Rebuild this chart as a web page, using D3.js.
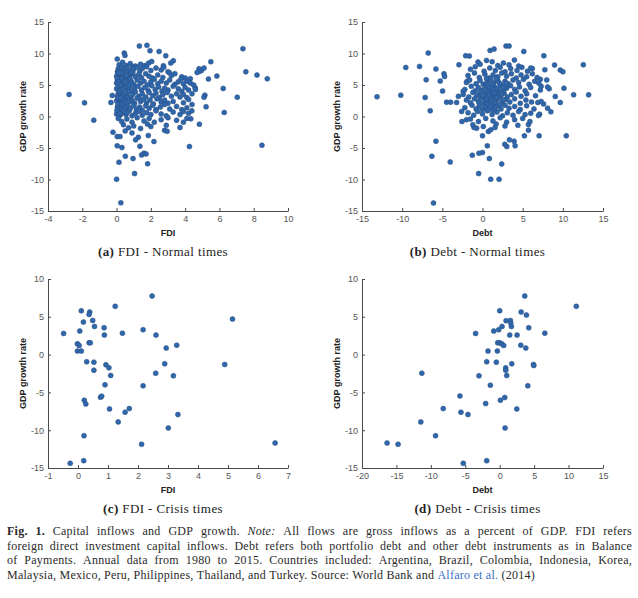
<!DOCTYPE html>
<html><head><meta charset="utf-8">
<script src="https://cdn.jsdelivr.net/npm/d3@7"></script>
<style>body{margin:0;background:#fff}svg{display:block}</style>
</head><body>
<script>
// ---------- DATA ----------
const fdiNormal = [
[-2.77,3.5],[-1.87,2.17],[-1.33,-0.58],[-0.33,2.23],[-0.25,3.34],[-0.21,-2.49],[0,-9.96],[0.25,-13.7],[0.14,-7.26],[1.05,-9.06],[0.96,-6.68],[0.51,-6.31],[0.31,-4.93],[0.04,-4.66],[0.04,-3.18],[0.2,-3.18],[1.81,-7.5],[1.46,-6.1],[1.6,-5.83],[1.72,-5.94],[1.36,-4.72],[1.27,-3.29],[1.11,-3.71],[1.85,-3.02],[2.18,-3.97],[4.25,-4.77],[8.48,-4.56],[1.33,11.18],[1.77,11.29],[1.95,10.44],[2.48,10.33],[2.87,9.64],[0.45,10.07],[0.49,9.7],[0.04,9.11],[7.37,10.76],[7.54,7.1],[8.19,6.57],[8.79,5.99],[6.22,4.45],[6.28,0.64],[7.04,3.07],[5.85,6.41],[5.36,5.94],[5.5,8.69],[5.1,7.68],[4.95,7.31],[4.81,7.58],[4.83,7.15],[5.22,1.54],[4.83,-1.22],[5.15,3.39],[5.1,3.07],[4.58,4.56],[4.39,0.9],[4.33,-0.37],[3.31,8.85],[3.16,8.48],[2.73,8.06],
[0.15,8.2],[0.35,8.6],[0.55,8.1],[0.8,8.4],[1.1,8.0],[1.4,8.3],[1.65,8.1],[1.87,8.48],[2.05,8.74],
[0.05,7.1],[0.1,7.6],[0.2,7.3],[0.3,7.8],[0.45,7.4],[0.6,7.7],[0.75,7.2],[0.9,7.9],[1.0,7.5],[1.2,7.8],[1.35,7.2],[1.5,7.6],[1.75,7.9],[2.0,7.3],[2.3,7.7],[2.6,7.4],[2.75,7.8],[3.0,7.1],[3.1,6.9],[4.7,7.0],
[0.0,6.4],[0.1,6.9],[0.2,6.2],[0.3,6.7],[0.4,6.3],[0.5,6.8],[0.65,6.1],[0.8,6.6],[0.95,6.9],[1.1,6.3],[1.3,6.7],[1.45,6.2],[1.7,6.8],[1.9,6.4],[2.1,6.1],[2.4,6.6],[2.7,6.2],[3.2,6.5],[3.4,6.8],[3.8,6.3],[4.0,6.1],[4.3,6.0],
[0,5.3],[0.05,5.8],[0.15,5.5],[0.25,5.1],[0.35,5.9],[0.45,5.4],[0.55,5.7],[0.7,5.2],[0.85,5.6],[1.0,5.1],[1.2,5.8],[1.4,5.3],[1.6,5.6],[1.8,5.0],[2.0,5.5],[2.2,5.9],[2.4,5.2],[2.6,5.6],[2.9,5.3],[3.1,5.8],[3.4,5.1],[3.6,5.5],[3.75,5.9],[3.9,5.2],[4.1,5.6],[4.3,5.3],[4.5,5.0],
[0,4.4],[0.1,4.8],[0.2,4.1],[0.3,4.6],[0.4,4.3],[0.5,4.9],[0.6,4.2],[0.75,4.7],[0.9,4.0],[1.05,4.5],[1.25,4.8],[1.45,4.2],[1.65,4.6],[1.85,4.1],[2.05,4.9],[2.25,4.3],[2.45,4.7],[2.65,4.0],[2.8,4.5],[3.0,4.2],[3.3,4.8],[3.6,4.4],[3.8,4.0],[4.0,4.6],[4.2,4.2],[4.6,4.3],
[0.05,3.2],[0.1,3.7],[0.2,3.4],[0.3,3.9],[0.35,3.1],[0.45,3.6],[0.55,3.3],[0.65,3.8],[0.8,3.0],[0.95,3.5],[1.1,3.9],[1.3,3.2],[1.5,3.6],[1.7,3.1],[1.9,3.8],[2.1,3.3],[2.3,3.7],[2.5,3.0],[2.7,3.5],[2.95,3.8],[3.2,3.2],[3.5,3.6],[3.7,3.1],[3.9,3.5],[4.1,3.0],[4.4,3.6],
[0,2.5],[0.1,2.9],[0.2,2.2],[0.3,2.7],[0.4,2.4],[0.5,2.0],[0.6,2.8],[0.75,2.3],[0.9,2.6],[1.05,2.1],[1.2,2.9],[1.4,2.4],[1.55,2.7],[1.75,2.2],[1.95,2.6],[2.15,2.0],[2.35,2.8],[2.6,2.3],[2.8,2.6],[3.0,2.1],[3.3,2.4],[3.9,2.2],[4.2,2.7],
[0.05,1.5],[0.15,1.9],[0.25,1.2],[0.4,1.7],[0.5,1.1],[0.65,1.6],[0.8,1.3],[1.0,1.8],[1.15,1.2],[1.35,1.5],[1.5,1.0],[1.7,1.7],[1.9,1.3],[2.1,1.8],[2.3,1.1],[2.55,1.5],[2.8,1.9],[3.1,1.2],[3.5,1.6],[3.8,1.1],[4.1,1.4],[4.4,1.9],
[0,0.4],[0.1,0.8],[0.2,0.2],[0.35,0.6],[0.55,0.3],[0.75,0.9],[0.9,0.1],[1.1,0.5],[1.3,0.8],[1.5,0.2],[1.75,0.6],[2.0,0.3],[2.3,0.9],[2.6,0.4],[2.9,0.1],[3.3,0.7],[3.7,0.3],[3.9,0.8],[4.2,0.5],
[0.1,-0.3],[0.3,-0.8],[0.6,-0.4],[0.9,-0.9],[1.2,-0.2],[1.6,-0.7],[1.9,-0.3],[2.2,-0.9],[2.6,-0.5],[3.0,-0.2],[3.5,-0.6],[3.9,-0.9],[4.1,-0.3],
[0.4,-1.3],[0.7,-1.8],[1.0,-1.5],[1.4,-1.9],[1.8,-1.2],[2.0,-1.6],[2.9,-1.4],[3.7,-1.75],
[0.5,-2.3],[0.9,-2.6],[2.8,-2.2],[2.95,-2.35],
[0.02,1.0],[0.08,2.0],[0.12,3.0],[0.18,4.0],[0.22,5.0],[0.28,6.0],[0.32,7.0],[0.38,2.5],[0.42,3.5],[0.48,4.5],[0.52,5.5],[0.58,6.5],[0.05,6.0],[0.15,7.0],[0.25,3.0],[0.35,4.2],[0.45,1.4],[0.55,2.2],[0.62,3.0],[0.68,4.0],[0.72,5.0],[0.78,6.0],[0.85,7.0],[0.2,0.5],[0.4,0.9],[0.6,0.6],[0.1,5.5],[0.3,2.0],[0.5,3.8],[0.7,2.6]
];
const debtNormal = [
[-13.13,3.13],[-10.17,3.39],[-9.55,7.79],[-7.84,7.95],[-6.76,10.07],[-7.01,5.83],[-7.14,3.02],[-6.51,0.9],[-5.8,7.53],[-4.8,6.78],[-4.72,6.36],[-5.26,5.62],[-4.97,4.03],[-4.47,2.28],[-3.97,2.28],[-3.22,2.23],[-2.93,8.21],[-5.8,-3.92],[-6.3,-6.31],[-4.02,-7.21],[-2.1,9.64],[-1.64,9.59],[-0.56,8.64],[0.94,10.49],[1.44,10.7],[2.93,11.18],[3.31,11.18],[5.14,10.33],[7.64,9.64],[3.97,8.96],[6.01,7.68],[7.76,7.42],[8.97,8.16],[9.68,7.37],[10.01,7.1],[12.55,8.21],[10.14,4.5],[11.34,3.44],[13.21,3.44],[9.68,2.23],[9.06,3.18],[8.51,0.74],[8.1,1.32],[7.1,0.37],[6.97,0.16],[6.89,2.23],[7.05,-3.07],[10.43,-3.07],[5.22,-3.07],[5.72,-2.17],[5.72,-1.27],[3.93,-3.92],[4.06,-4.66],[3.02,-4.77],[2.77,-4.4],[3.35,-3.71],[2.39,-7.53],[1.02,-9.96],[2.06,-9.96],[-0.48,-9.06],[0,-5.72],[-0.44,-5.83],[-1.27,-6.15],[0.85,-6.68],[0.6,-4.66],[0,-3.07],[-6.1,-13.73],[-2.0,-0.5],[-2.56,-0.8],[-0.73,-1.85],[-1.06,-1.75],[0.73,-2.38],[1.02,-2.12],[1.56,-1.75],
[-2.4,4.0],[-1.9,5.6],[-3.0,3.2],[-2.6,0.8],[8.0,5.8],[8.1,4.7],[7.3,4.8],[7.6,2.0],[7.2,5.9],
[-0.3,8.3],[1.2,8.7],[1.9,8.1],[2.6,8.5],[3.3,8.2],[4.5,8.0],[0.5,8.9],
[-1.5,7.5],[-0.9,7.9],[0.2,7.2],[0.9,7.7],[1.6,7.3],[2.2,7.8],[2.8,7.1],[3.5,7.6],[4.3,7.3],[4.9,7.8],[5.6,7.2],[6.2,7.6],
[-1.8,6.5],[-1.0,6.9],[-0.4,6.2],[0.3,6.7],[0.8,6.1],[1.3,6.6],[1.9,6.3],[2.4,6.9],[3.0,6.4],[3.6,6.8],[4.2,6.1],[4.8,6.6],[5.5,6.3],[6.2,6.8],[6.8,6.2],
[-2.0,5.4],[-1.6,5.8],[-0.8,5.2],[-0.3,5.7],[0.1,5.1],[0.6,5.5],[1.0,5.9],[1.4,5.3],[1.9,5.7],[2.3,5.0],[2.8,5.6],[3.2,5.2],[3.8,5.8],[4.5,5.4],[5.1,5.9],[5.8,5.1],[6.5,5.6],[7.0,5.3],
[-2.2,4.3],[-1.4,4.8],[-0.9,4.1],[-0.5,4.6],[0,4.2],[0.4,4.9],[0.8,4.4],[1.1,4.0],[1.5,4.7],[1.8,4.2],[2.2,4.8],[2.6,4.1],[3.0,4.5],[3.5,4.9],[4.0,4.3],[4.6,4.7],[5.3,4.1],[6.0,4.6],[7.2,4.2],[8.3,4.4],
[-2.4,3.5],[-1.7,3.1],[-1.2,3.8],[-0.7,3.3],[-0.3,3.7],[0.1,3.0],[0.4,3.5],[0.7,3.9],[1.0,3.2],[1.3,3.6],[1.6,3.0],[1.9,3.8],[2.3,3.3],[2.7,3.7],[3.1,3.1],[3.6,3.5],[4.2,3.9],[4.8,3.2],[5.5,3.6],[6.6,3.3],
[-2.0,2.6],[-1.5,2.2],[-1.0,2.8],[-0.5,2.4],[-0.2,2.9],[0.1,2.1],[0.4,2.6],[0.7,2.3],[1.0,2.8],[1.3,2.0],[1.7,2.5],[2.0,2.9],[2.4,2.2],[2.9,2.7],[3.4,2.3],[4.0,2.8],[4.7,2.1],[5.4,2.6],[6.1,2.3],[7.3,2.4],
[-2.2,1.4],[-1.3,1.8],[-0.8,1.2],[-0.4,1.6],[0,1.1],[0.5,1.9],[0.9,1.4],[1.3,1.0],[1.8,1.7],[2.3,1.2],[2.8,1.8],[3.3,1.3],[4.0,1.6],[4.7,1.1],[5.5,1.7],[6.4,1.2],
[-1.8,0.6],[-1.1,0.2],[-0.6,0.8],[0,0.4],[0.6,0.9],[1.2,0.3],[1.8,0.7],[2.5,0.1],[3.1,0.6],[3.8,0.2],[4.5,0.8],[5.3,0.3],[6.0,0.5],
[-1.5,-0.4],[-0.5,-0.8],[0.4,-0.3],[1.3,-0.7],[2.2,-0.2],[3.0,-0.9],[4.0,-0.5],[5.0,-0.3],[5.9,-0.8],
[-1.2,-1.3],[0.1,-1.6],[1.7,-1.2],[2.8,-1.5],[4.4,-1.4],
[0.2,3.2],[0.5,2.8],[0.8,3.4],[1.1,2.6],[1.4,3.8],[1.7,4.4],[2.0,3.4],[2.3,4.0],[2.6,2.6],[0.3,4.3],[0.6,5.0],[0.9,4.6],[1.2,5.2],[1.5,2.3],[1.8,3.0],[2.1,5.3],[2.4,3.6],[2.7,4.6],[0.0,3.4],[-0.2,4.0],[-0.4,2.0],[0.3,1.5],[0.7,1.0],[1.0,1.6],[1.6,1.4],[2.2,1.9],[1.3,4.4],[0.5,6.0],[1.7,6.0],[2.9,5.2]
];
const fdiCrisis = [
[-0.48,2.8],[0.11,5.8],[0.39,5.63],[0.37,5.32],[0.18,4.3],[0.49,4.52],[0.06,3.11],[0.55,3.73],[0.87,3.55],[0.88,2.58],[1.24,6.38],[1.48,2.84],[2.17,3.29],[2.47,7.75],[2.6,2.58],[2.94,0.86],[3.29,1.25],[5.15,4.7],[-0.02,1.43],[0.04,1.21],[-0.02,0.46],[0.11,0.46],[0.37,1.56],[0.41,1.56],[0.29,-0.95],[0.53,-1.0],[0.93,-1.35],[1.03,-1.75],[0.53,-2.06],[1.09,-2.76],[0.9,-4.0],[2.17,-4.13],[2.59,-2.46],[2.89,-1.22],[3.18,-2.81],[4.89,-1.31],[0.75,-5.64],[0.79,-5.5],[0.21,-6.03],[0.26,-6.52],[1.05,-7.18],[1.71,-7.14],[1.57,-7.62],[1.34,-8.9],[3.33,-7.93],[3.01,-9.7],[0.2,-10.72],[2.12,-11.86],[6.57,-11.69],[-0.26,-14.38],[0.19,-14.03]
];
const debtCrisis = [
[-16.36,-11.69],[-14.76,-11.86],[-11.46,-8.9],[-11.31,-2.46],[-9.32,-10.72],[-8.2,-7.14],[-5.78,-5.46],[-5.63,-7.62],[-4.61,-7.93],[-5.29,-14.38],[-1.89,-14.03],[-3.5,2.8],[-3.01,-2.81],[-2.04,-6.48],[-1.7,0.46],[-1.36,-4.05],[-1.89,-0.95],[-0.49,-1.0],[-0.34,0.46],[-0.87,3.11],[-0.15,3.29],[0,5.8],[0.34,3.73],[-0.29,1.56],[0,1.56],[0.29,1.43],[0.58,1.21],[0.92,4.48],[1.55,4.52],[1.6,4.17],[1.7,3.73],[1.46,2.58],[2.52,2.58],[3.11,5.63],[3.88,5.23],[3.64,7.75],[4.22,3.55],[6.55,2.84],[11.12,6.38],[3.06,1.25],[3.79,0.86],[1.75,-1.22],[0.87,-1.75],[0.87,-2.06],[1.02,-2.76],[4.9,-1.31],[4.95,-1.44],[4.08,-4.13],[0.1,-6.03],[0.73,-5.68],[2.48,-7.18],[0.78,-9.7]
];
const xTicksA = [-4,-2,0,2,4,6,8,10];
const xTicksB = [-15,-10,-5,0,5,10,15];
const xTicksC = [-1,0,1,2,3,4,5,6,7];
const xTicksD = [-20,-15,-10,-5,0,5,10,15];
const yTicksNormal = [-15,-10,-5,0,5,10,15];
const yTicksCrisis = [-15,-10,-5,0,5,10];
const panelTags = ["(a)","(b)","(c)","(d)"];
const panelTitles = ["FDI - Normal times","Debt - Normal times","FDI - Crisis times","Debt - Crisis times"];
const xTitles = ["FDI","Debt","FDI","Debt"];
const yTitle = "GDP growth rate";
const captionLines = [
  [["Fig. 1.","b"],["Capital inflows and GDP growth.",""],["Note:","i"],["All flows are gross inflows as a percent of GDP. FDI refers",""]],
  [["foreign direct investment capital inflows. Debt refers both portfolio debt and other debt instruments as in Balance",""]],
  [["of Payments. Annual data from 1980 to 2015. Countries included: Argentina, Brazil, Colombia, Indonesia, Korea,",""]],
  [["Malaysia, Mexico, Peru, Philippines, Thailand, and Turkey. Source: World Bank and",""],["Alfaro et al.","link"],["(2014)",""]]
];

// ---------- LAYOUT ----------
const W = 638, H = 598;
const svg = d3.select("body").append("svg").attr("width", W).attr("height", H);
svg.append("rect").attr("width", W).attr("height", H).attr("fill", "#fff");

const panels = [
  {l:48, r:288, t:22, b:211, xd:[-4,10], xt:xTicksA, yd:[-15,15], yt:yTicksNormal, data:fdiNormal},
  {l:362, r:603, t:22, b:211, xd:[-15,15], xt:xTicksB, yd:[-15,15], yt:yTicksNormal, data:debtNormal},
  {l:48, r:288, t:279, b:468, xd:[-1,7], xt:xTicksC, yd:[-15,10], yt:yTicksCrisis, data:fdiCrisis},
  {l:362, r:603, t:279, b:468, xd:[-20,15], xt:xTicksD, yd:[-15,10], yt:yTicksCrisis, data:debtCrisis}
];

const axisColor = "#4a4a4a", tickColor = "#555";
const serif = "Liberation Serif, Times New Roman, serif";
panels.forEach((p, i) => {
  const x = d3.scaleLinear().domain(p.xd).range([p.l, p.r]);
  const y = d3.scaleLinear().domain(p.yd).range([p.b, p.t]);
  const g = svg.append("g");

  g.append("g").selectAll("circle").data(p.data).join("circle")
    .attr("cx", d => x(d[0])).attr("cy", d => y(d[1])).attr("r", 2.5)
    .attr("fill", "#2f67ac").attr("stroke", "#2c4f7e").attr("stroke-width", 0.5);

  const xa = g.append("g").attr("transform", `translate(0,${p.b})`)
    .call(d3.axisBottom(x).tickValues(p.xt).tickSize(-3).tickSizeOuter(0).tickPadding(6).tickFormat(d3.format("d")));
  const ya = g.append("g").attr("transform", `translate(${p.l},0)`)
    .call(d3.axisLeft(y).tickValues(p.yt).tickSize(-3).tickSizeOuter(0).tickPadding(6).tickFormat(d3.format("d")));
  [xa, ya].forEach(a => {
    a.select(".domain").attr("stroke", axisColor).attr("stroke-width", 1);
    a.selectAll(".tick line").attr("stroke", axisColor);
    a.selectAll(".tick text").attr("fill", tickColor).attr("font-family", "Liberation Sans, Arial, sans-serif").attr("font-size", 9).text(function(d){ return String(d); });
  });
  xa.selectAll(".tick text").attr("dy", "0.71em").attr("y", 5);
  ya.selectAll(".tick text").attr("x", -4);

  g.append("text").attr("x", (p.l + p.r) / 2).attr("y", p.b + 24.5)
    .attr("text-anchor", "middle").attr("font-family", "Liberation Sans, Arial, sans-serif")
    .attr("font-weight", "bold").attr("font-size", 9).attr("fill", "#222").text(xTitles[i]);
  g.append("text").attr("transform", `translate(${p.l - 22},${(p.t + p.b) / 2}) rotate(-90)`)
    .attr("text-anchor", "middle").attr("font-family", "Liberation Sans, Arial, sans-serif")
    .attr("font-weight", "bold").attr("font-size", 9).attr("fill", "#222").text(yTitle);

  const st = g.append("text").attr("x", (p.l + p.r) / 2 - 5).attr("y", p.b + 45)
    .attr("text-anchor", "middle").attr("font-family", serif)
    .attr("font-size", 13).attr("letter-spacing", 0.4).attr("fill", "#222");
  st.append("tspan").attr("font-weight", "bold").text(panelTags[i]);
  st.append("tspan").text(" " + panelTitles[i]);
});

// ---------- CAPTION (justified) ----------
const capX0 = 7, capEnds = [632, 632, 632, 535], capY = [535, 549.5, 564, 578.5];
captionLines.forEach((line, li) => {
  const words = [];
  line.forEach(([txt, sty]) => txt.split(" ").forEach(w => words.push({w, sty})));
  const nodes = words.map(o => {
    const t = svg.append("text").attr("y", capY[li])
      .attr("font-family", serif).attr("font-size", 12).attr("letter-spacing", 0.25)
      .attr("fill", o.sty === "link" ? "#3a6fc4" : "#2a2a2a").text(o.w);
    if (o.sty === "b") t.attr("font-weight", "bold");
    if (o.sty === "i") t.attr("font-style", "italic");
    return t;
  });
  const widths = nodes.map(n => n.node().getComputedTextLength());
  const total = d3.sum(widths);
  const gap = (capEnds[li] - capX0 - total) / (nodes.length - 1);
  let cx = capX0;
  nodes.forEach((n, k) => { n.attr("x", cx); cx += widths[k] + gap; });
});
</script>
</body></html>
